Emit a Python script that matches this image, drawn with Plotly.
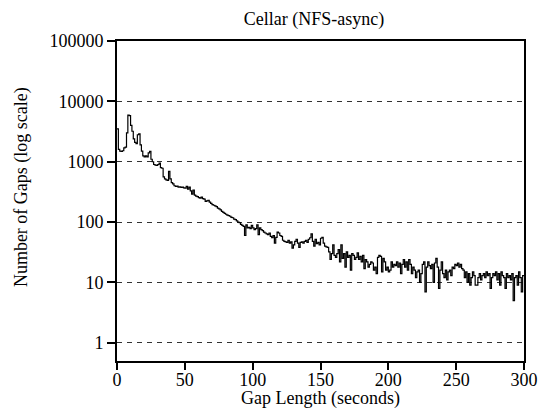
import plotly.graph_objects as go
import math

# Histogram bins (1-second bins, left edges) and counts
gap_seconds = list(range(0, 300))
gap_counts = [
    3500, 1600, 1500, 1480, 1520, 1700, 1750, 3000, 5900, 5800,
    4000, 3200, 2400, 2100, 2000, 2800, 2900, 1900, 1500, 1250,
    1200, 1250, 1200, 1400, 1480, 1100, 1000, 900, 880, 870,
    900, 950, 800, 780, 560, 520, 500, 490, 690, 520,
    450, 430, 400, 390, 395, 380, 385, 375, 380, 370,
    365, 390, 350, 380, 330, 290, 340, 280, 270, 265,
    255, 250, 260, 245, 240, 220, 225, 230, 215, 205,
    195, 190, 185, 180, 170, 165, 160, 150, 145, 140,
    135, 130, 128, 125, 120, 118, 112, 110, 105, 100,
    98, 92, 88, 85, 60, 90, 80, 82, 78, 88,
    80, 75, 78, 90, 62, 80, 75, 72, 68, 66,
    64, 62, 66, 58, 55, 60, 45, 56, 68, 66,
    60, 58, 50, 48, 47, 46, 50, 45, 47, 37,
    42, 48, 52, 45, 38, 46, 47, 45, 48, 50,
    46, 52, 55, 64, 48, 40, 52, 44, 46, 42,
    54, 56, 45, 40, 39, 38, 32, 24, 30, 42,
    28, 26, 30, 35, 22, 42, 25, 30, 18, 32,
    26, 28, 16, 30, 28, 24, 26, 31, 24, 27,
    22, 28, 17, 24, 22, 18, 20, 22, 21, 16,
    18, 14, 26, 28, 27, 15, 25, 22, 16, 18,
    15, 16, 22, 18, 20, 19, 22, 18, 21, 14,
    20, 24, 18, 22, 16, 24, 20, 14, 18, 16,
    12, 15, 16, 10, 14, 20, 22, 7, 18, 22,
    19, 17, 20, 10, 21, 25, 18, 8, 16, 22,
    14, 12, 16, 11, 15, 16, 13, 18, 17, 20,
    19, 21, 18, 20, 17, 16, 12, 15, 10, 14,
    9, 12, 15, 13, 9, 9, 12, 14, 11, 13,
    14, 12, 15, 13, 14, 8, 12, 14, 13, 15,
    11, 14, 9, 15, 13, 12, 8, 14, 12, 13,
    11, 14, 5, 12, 13, 9, 15, 12, 7, 13,
]
bin_width = 1

x_ticks = [0, 50, 100, 150, 200, 250, 300]
y_ticks = [1, 10, 100, 1000, 10000, 100000]
y_ticktext = ["1", "10", "100", "1000", "10000", "100000"]

title_text = "Cellar (NFS-async)"
x_title = "Gap Length (seconds)"
y_title = "Number of Gaps (log scale)"

xs = gap_seconds + [gap_seconds[-1] + bin_width]
ys = gap_counts + [gap_counts[-1]]

FONT = "Liberation Serif"
FS = 18
W, H = 550, 413
L, R, T, B = 117, 17, 41, 52
pw, ph = W - L - R, H - T - B

fig = go.Figure()
fig.add_trace(go.Scatter(
    x=xs, y=ys, mode="lines", line=dict(shape="hv", color="black", width=1.2),
    showlegend=False, hoverinfo="skip"))

fig.update_layout(
    width=W, height=H,
    margin=dict(l=L, r=R, t=T, b=B, pad=0),
    paper_bgcolor="white", plot_bgcolor="white",
    font=dict(family=FONT, size=FS, color="black"),
    title=dict(text=title_text, x=314 / W, xref="container", xanchor="center",
               y=1 - 19 / H, yref="container", yanchor="middle",
               font=dict(family=FONT, size=FS, color="black")),
)
fig.update_xaxes(
    range=[0, 300], tickvals=x_ticks, ticks="outside", ticklen=7, tickwidth=1.5,
    tickcolor="black", showline=True, linecolor="black", linewidth=2, mirror=True,
    showgrid=False, zeroline=False, tickfont=dict(family=FONT, size=FS),
    ticklabelstandoff=-6)
fig.update_yaxes(
    type="log", range=[math.log10(0.5), 5], tickvals=y_ticks, ticktext=y_ticktext,
    ticks="outside", ticklen=8, tickwidth=1.5, tickcolor="black",
    showline=True, linecolor="black", linewidth=2, mirror=True,
    showgrid=True, gridcolor="#333333", gridwidth=1, griddash="5px,5px",
    zeroline=False, tickfont=dict(family=FONT, size=FS))

fig.add_annotation(text=x_title, xref="paper", yref="paper",
                   x=0.5, y=-(398 - (H - B)) / ph, xanchor="center", yanchor="middle",
                   showarrow=False, font=dict(family=FONT, size=FS))
fig.add_annotation(text=y_title, xref="paper", yref="paper",
                   x=(19 - L) / pw, y=((H - B) - 187) / ph, xanchor="center", yanchor="middle",
                   textangle=-90, showarrow=False, font=dict(family=FONT, size=FS))

fig.write_html("out.html")
